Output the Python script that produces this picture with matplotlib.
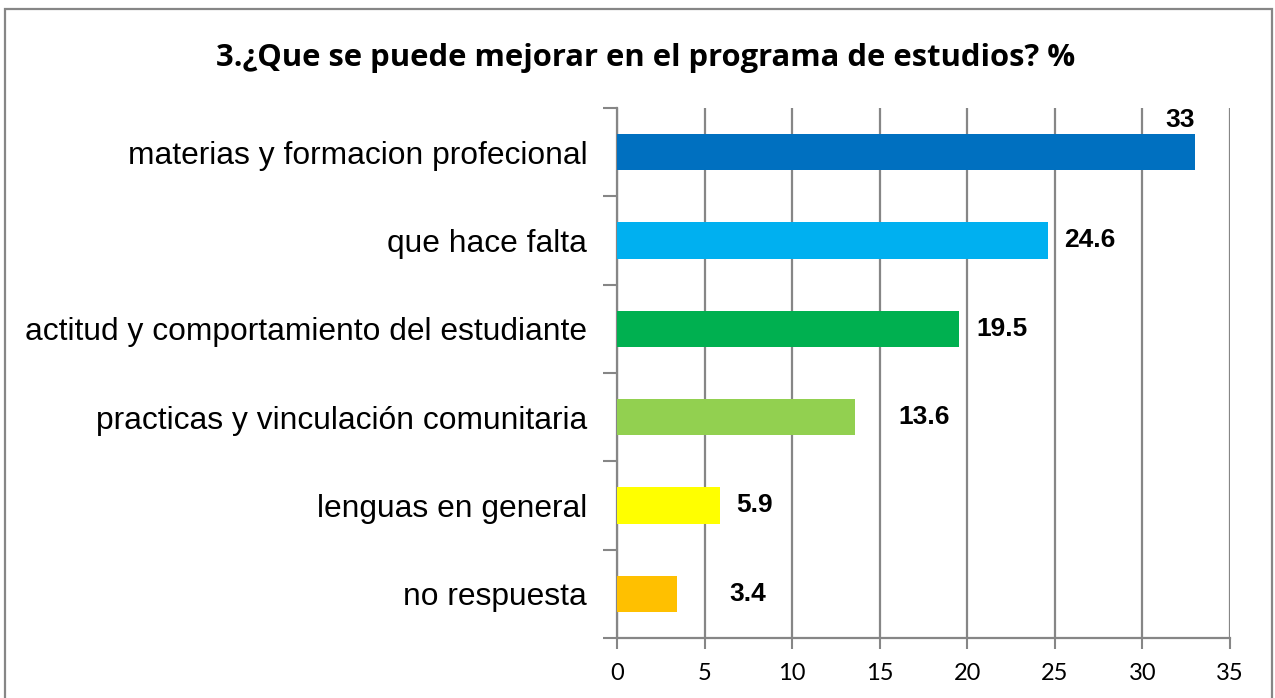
import matplotlib.pyplot as plt
from matplotlib.patches import Rectangle

# data, top to bottom as in the chart
categories = [
    'materias y formacion profecional',
    'que hace falta',
    'actitud y comportamiento del estudiante',
    'practicas y vinculación comunitaria',
    'lenguas en general',
    'no respuesta',
]
values = [33, 24.6, 19.5, 13.6, 5.9, 3.4]
value_labels = ['33', '24.6', '19.5', '13.6', '5.9', '3.4']
x_ticks = [0, 5, 10, 15, 20, 25, 30, 35]

colors = ['#0070C0', '#00B0F0', '#00B050', '#92D050', '#FFFF00', '#FFC000']
# label offsets from bar end, in pixels (Excel moved some by hand)
label_dx = [0, 16, 18, 43, 16, 53]
label_dy = [32, 0, 0, 0, 0, 0]

grey = '#868686'
plt.rcParams['font.family'] = ['Liberation Sans', 'DejaVu Sans']

fig = plt.figure(figsize=(12.75, 6.98), dpi=100)
ax = fig.add_axes([617 / 1275, 1 - 638 / 698, (1230 - 617) / 1275, (638 - 108) / 698])

ypos = list(range(len(categories)))
ax.barh(ypos, values, height=0.41, color=colors, zorder=3)
ax.set_ylim(len(categories) - 0.5, -0.5)
ax.set_xlim(0, 35)

ax.set_xticks(x_ticks)
ax.set_xticklabels([str(t) for t in x_ticks], fontsize=17, family=['Lato', 'DejaVu Sans'])
ax.set_yticks(ypos)
ax.set_yticklabels(categories, fontsize=22.9)
ax.set_yticks([i - 0.5 for i in range(len(categories) + 1)], minor=True)
ax.tick_params(axis='y', which='major', length=0, pad=21.5)
ax.tick_params(axis='y', which='minor', length=10, width=1.5, color=grey)
ax.tick_params(axis='x', length=8, width=1.5, color=grey, pad=10)

ax.grid(axis='x', color=grey, linewidth=1.6, zorder=0)
for s in ['top', 'right']:
    ax.spines[s].set_visible(False)
for s in ['left', 'bottom']:
    ax.spines[s].set_color(grey)
    ax.spines[s].set_linewidth(1.6)

px = 0.72  # points per pixel
for i, (v, lab) in enumerate(zip(values, value_labels)):
    if label_dy[i]:
        ax.annotate(lab, (v, i), xytext=(0, label_dy[i] * px), textcoords='offset points',
                    ha='right', va='center', fontsize=19, fontweight='bold', zorder=4)
    else:
        ax.annotate(lab, (v, i), xytext=(label_dx[i] * px, 0), textcoords='offset points',
                    ha='left', va='center', fontsize=19, fontweight='bold', zorder=4)

fig.text(646 / 1275, 1 - 58 / 698, '3.¿Que se puede mejorar en el programa de estudios? %',
         ha='center', va='center', fontsize=22.3, fontweight='bold',
         family=['Open Sans', 'DejaVu Sans'])

# chart border
fig.add_artist(Rectangle((5 / 1275, -0.02), (1272 - 5) / 1275, 1.02 - 9 / 698,
                         transform=fig.transFigure, fill=False, edgecolor=grey, linewidth=1.6))

fig.savefig('out.png', dpi=100)
